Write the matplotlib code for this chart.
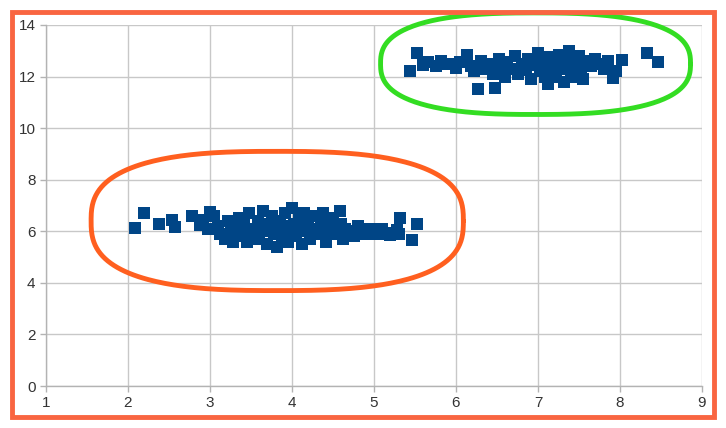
import numpy as np
import matplotlib
matplotlib.use("Agg")
import matplotlib.pyplot as plt
from matplotlib.patches import Rectangle

# Cluster 1 (lower)
x1 = [2.09, 2.2, 2.38, 2.54, 2.57, 2.78, 2.88, 2.92, 2.98, 3.0, 3.05, 3.1, 3.12, 3.18, 3.22,
      3.25, 3.28, 3.32, 3.35, 3.38, 3.4, 3.42, 3.45, 3.48, 3.5, 3.55, 3.58, 3.6, 3.62, 3.65,
      3.68, 3.7, 3.72, 3.75, 3.78, 3.8, 3.82, 3.85, 3.88, 3.9, 3.92, 3.95, 3.98, 4.0, 4.02,
      4.05, 4.08, 4.1, 4.12, 4.15, 4.18, 4.2, 4.22, 4.25, 4.28, 4.3, 4.35, 4.38, 4.4, 4.42,
      4.45, 4.5, 4.55, 4.58, 4.6, 4.62, 4.65, 4.7, 4.75, 4.8, 4.85, 4.9, 4.95, 5.0, 5.05,
      5.1, 5.15, 5.2, 5.28, 5.3, 5.32, 5.46, 5.52]
y1 = [6.12, 6.7, 6.28, 6.43, 6.16, 6.6, 6.24, 6.45, 6.1, 6.74, 6.6, 6.2, 5.9, 5.7, 6.4,
      6.0, 5.6, 6.2, 6.5, 5.8, 6.0, 6.3, 5.6, 6.7, 6.1, 5.9, 6.4, 5.7, 6.2, 6.8,
      6.0, 5.5, 6.3, 6.6, 5.9, 6.1, 5.4, 6.4, 5.8, 6.2, 6.7, 5.6, 6.0, 6.9, 6.3,
      5.8, 6.5, 6.1, 5.5, 6.7, 6.0, 6.3, 5.7, 6.6, 6.1, 5.9, 6.4, 6.7, 6.0, 5.6,
      6.2, 6.5, 5.9, 6.8, 6.3, 5.7, 6.1, 6.0, 5.8, 6.2, 6.0, 5.9, 6.1, 6.0, 5.9,
      6.1, 5.95, 5.85, 6.05, 5.9, 6.5, 5.66, 6.28]

# Cluster 2 (upper)
x2 = [5.44, 5.52, 5.6, 5.66, 5.75, 5.82, 5.9, 6.0, 6.05, 6.13, 6.18, 6.22, 6.27, 6.3, 6.35,
      6.4, 6.45, 6.48, 6.52, 6.55, 6.6, 6.62, 6.68, 6.72, 6.75, 6.8, 6.85, 6.88, 6.92, 6.95,
      7.0, 7.02, 7.05, 7.08, 7.1, 7.12, 7.15, 7.18, 7.2, 7.22, 7.25, 7.28, 7.3, 7.32, 7.35,
      7.38, 7.4, 7.42, 7.45, 7.48, 7.5, 7.52, 7.55, 7.6, 7.65, 7.7, 7.75, 7.8, 7.85, 7.91,
      7.95, 8.02, 8.33, 8.46]
y2 = [12.2, 12.9, 12.45, 12.55, 12.4, 12.6, 12.5, 12.35, 12.55, 12.85, 12.4, 12.2, 11.5, 12.6, 12.3,
      12.5, 12.1, 11.55, 12.7, 12.35, 12.0, 12.55, 12.3, 12.8, 12.1, 12.5, 12.25, 12.7, 11.9, 12.45,
      12.9, 12.2, 12.6, 12.0, 12.4, 11.7, 12.75, 12.3, 12.55, 12.0, 12.85, 12.3, 12.6, 11.8, 12.45,
      13.0, 12.2, 12.7, 12.0, 12.5, 12.8, 12.3, 11.9, 12.6, 12.4, 12.7, 12.5, 12.3, 12.6, 11.94,
      12.2, 12.64, 12.9, 12.56]

xticks = [1, 2, 3, 4, 5, 6, 7, 8, 9]
yticks = [0, 2, 4, 6, 8, 10, 12, 14]

fig = plt.figure(figsize=(7.26, 4.28), dpi=100)
fig.patch.set_facecolor("white")
ax = fig.add_axes([46/726, 1 - 386/428, (702-46)/726, (386-25)/428])

ax.scatter(x1 + x2, y1 + y2, marker="s", s=66, color="#004586", linewidths=0, zorder=3)

ax.set_xlim(1, 9)
ax.set_ylim(0, 14)
ax.set_xticks(xticks)
ax.set_yticks(yticks)
ax.grid(True, color="#c8c8c8", linewidth=1.0, zorder=0)
ax.set_axisbelow(True)
for s in ["top", "right"]:
    ax.spines[s].set_visible(False)
for s in ["left", "bottom"]:
    ax.spines[s].set_color("#b3b3b3")
    ax.spines[s].set_linewidth(1.0)
ax.tick_params(axis="both", colors="#b3b3b3", length=4, width=1, labelsize=11,
               labelcolor="#333333")
for lab in ax.get_xticklabels() + ax.get_yticklabels():
    lab.set_fontfamily("Liberation Sans")


def superellipse(cx, cy, a, b, n, npts=300):
    t = np.linspace(0, 2*np.pi, npts)
    c, s = np.cos(t), np.sin(t)
    xs = cx + a * np.sign(c) * np.abs(c) ** (2/n)
    ys = cy + b * np.sign(s) * np.abs(s) ** (2/n)
    return xs, ys

# hand-drawn highlight loops
ox, oy = superellipse(3.82, 6.4, 2.27, 2.7, 2.7)
ax.plot(ox, oy, color="#FF5F1F", linewidth=3.5, clip_on=False, zorder=4,
        solid_capstyle="round")
gx, gy = superellipse(6.97, 12.5, 1.89, 1.97, 2.6)
ax.plot(gx, gy, color="#33DD22", linewidth=3.5, clip_on=False, zorder=4,
        solid_capstyle="round")

# orange frame around whole image
fig.patches.append(Rectangle((12/726, 1 - 417/428), (714-12)/726, (417-12)/428,
                             transform=fig.transFigure, fill=False,
                             edgecolor="#F96541", linewidth=3.5))

fig.savefig("out.png", dpi=100)
